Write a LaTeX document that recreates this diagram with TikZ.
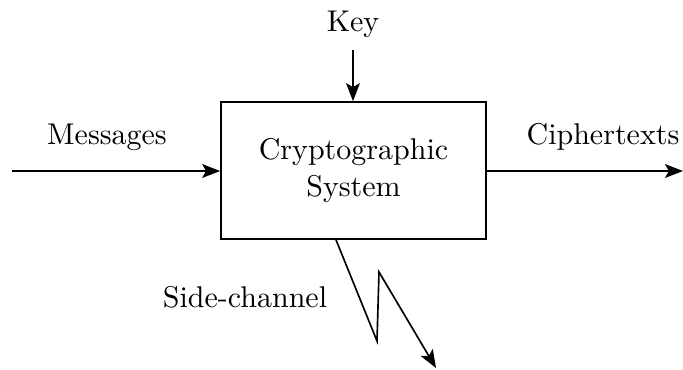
\documentclass[tikz,border=0pt]{standalone}
\usetikzlibrary{arrows.meta}
\newlength{\pxu}
\setlength{\pxu}{0.3333pt}
\tikzset{
  flow/.style={line width=0.55pt, -{Stealth[length=6pt,width=4.6pt,inset=1.3pt]}},
  lbl/.style={inner sep=0pt, font=\fontsize{10}{12}\selectfont},
  sysbox/.style={draw, line width=0.55pt, minimum width=265\pxu, minimum height=137\pxu, inner sep=0pt, align=center, font=\fontsize{10}{12.5}\selectfont}
}
\begin{document}
\begin{tikzpicture}[x=0.3333pt, y=-0.3333pt]
  \useasboundingbox (0,0) rectangle (683,369);
  % central block
  \node[sysbox] (sys) at (353.5,170.5) {Cryptographic\\System};
  % inputs and outputs
  \coordinate (msrc) at (12,171);
  \coordinate (cdst) at (683,171);
  \coordinate (ksrc) at (353,50);
  \draw[flow] (msrc) -- (msrc -| sys.west);
  \draw[flow] (sys.east |- cdst) -- (cdst);
  \draw[flow] (ksrc) -- (ksrc |- sys.north);
  % side-channel leak drawn as a lightning bolt
  \coordinate (zs) at (336,239);
  \coordinate (z1) at (377,341);
  \coordinate (z2) at (379,272);
  \coordinate (zend) at (436,368);
  \draw[flow, line join=miter] (zs |- sys.south) -- (z1) -- (z2) -- (zend);
  % labels
  \node[lbl] (key) at (353,24) {Key};
  \node[lbl] (msg) at (107,137) {Messages};
  \node[lbl] (ctx) at (603,137) {Ciphertexts};
  \node[lbl] (side) at (245,297) {Side-channel};
\end{tikzpicture}
\end{document}
